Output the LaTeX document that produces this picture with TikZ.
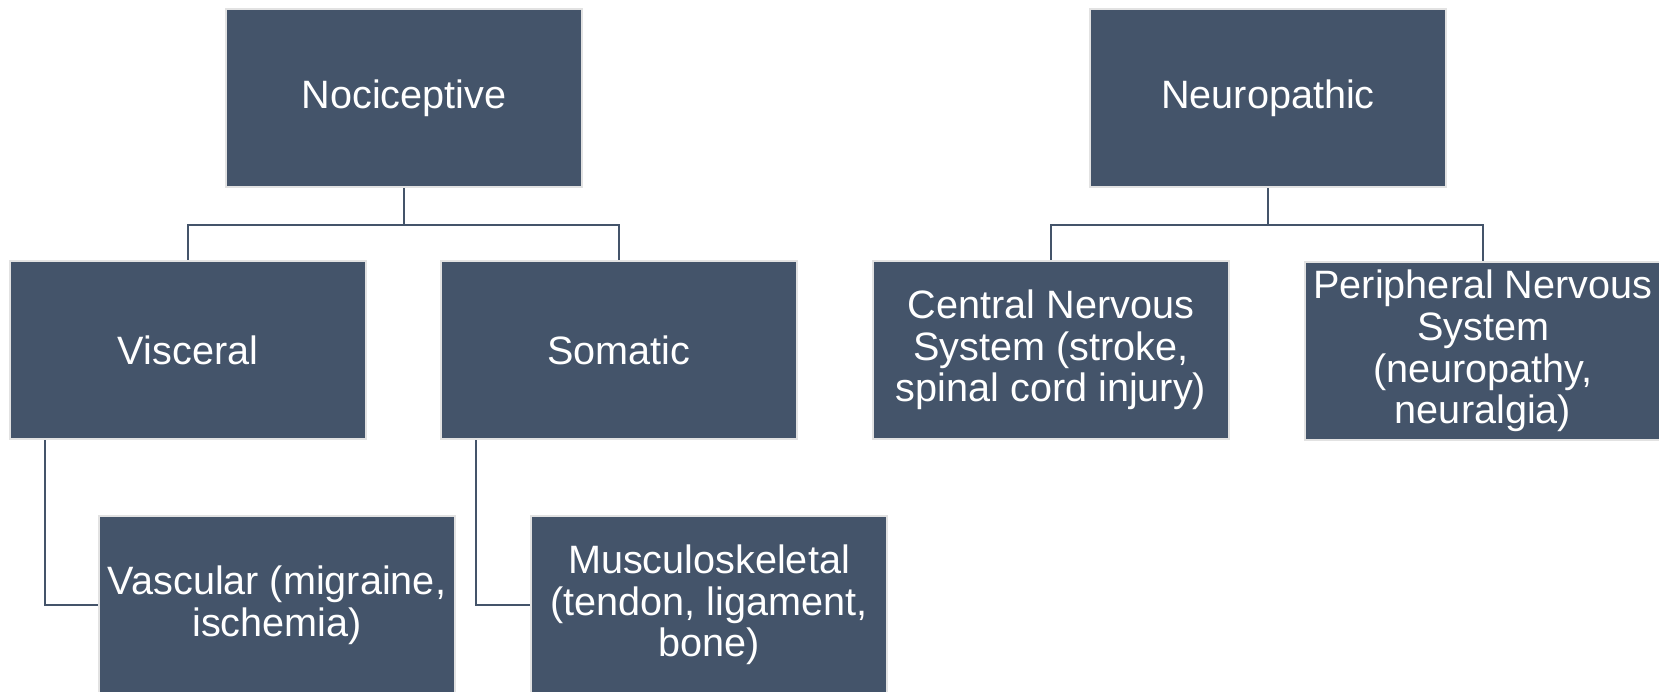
\documentclass[tikz,border=0pt]{standalone}
\usepackage{fontspec}
\setmainfont{Liberation Sans}
\definecolor{boxblue}{HTML}{44546A}
\definecolor{boxedge}{HTML}{E2E2E2}

\begin{document}
\begin{tikzpicture}[x=0.5pt,y=-0.5pt]
\tikzstyle{box}=[rectangle, fill=boxblue, draw=boxedge, line width=1pt, minimum width=178pt, minimum height=89pt, inner sep=0pt, text=white, align=center, font=\fontsize{19.8}{20.8}\selectfont]
\tikzstyle{link}=[draw=boxblue, line width=1pt]
\clip (0,0) rectangle (1659,691);
\node [box] (noci) at (404,98) {Nociceptive};
\node [box] (neuro) at (1268,98) {Neuropathic};
\node [box] (visc) at (188,350) {Visceral};
\node [box] (soma) at (619,350) {Somatic};
\node [box] (cns) at (1051,350) {Central Nervous\\System (stroke,\\spinal cord injury)};
\node [box] (pns) at (1483,351) {Peripheral Nervous\\System\\(neuropathy,\\neuralgia)};
\node [box] (vasc) at (277,605) {Vascular (migraine,\\ischemia)};
\node [box] (musc) at (709,605) {Musculoskeletal\\(tendon, ligament,\\bone)};
\draw [link] (noci.south) -- ++(0,37) -| (visc.north);
\draw [link] (noci.south) -- ++(0,37) -| (soma.north);
\draw [link] (neuro.south) -- ++(0,37) -| (cns.north);
\draw [link] (neuro.south) -- ++(0,37) -| (pns.north);
\draw [link] ([xshift=18pt]visc.south west) |- (vasc.west);
\draw [link] ([xshift=18pt]soma.south west) |- (musc.west);
\end{tikzpicture}
\end{document}
